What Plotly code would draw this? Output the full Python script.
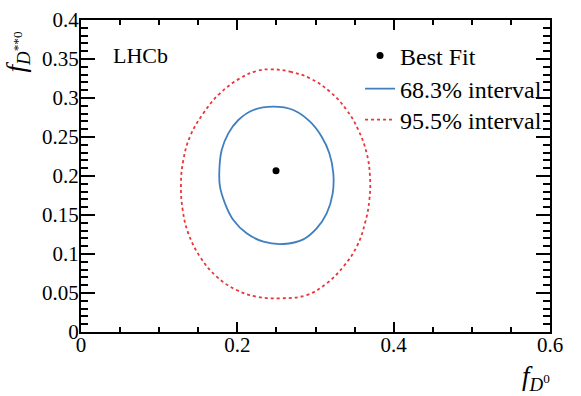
import plotly.graph_objects as go

# Best fit point
best_x = [0.2495]
best_y = [0.2068]

# 68.3% interval contour
c68_x = [0.2461, 0.2716, 0.2930, 0.3079, 0.3177, 0.3228, 0.3220, 0.3143, 0.3015, 0.2844,
         0.2588, 0.2333, 0.2119, 0.1949, 0.1842, 0.1778, 0.1770, 0.1800, 0.1885, 0.2013,
         0.2205, 0.2461]
c68_y = [0.2889, 0.2846, 0.2697, 0.2504, 0.2291, 0.2034, 0.1778, 0.1521, 0.1329, 0.1188,
         0.1128, 0.1158, 0.1265, 0.1436, 0.1650, 0.1863, 0.2077, 0.2333, 0.2547, 0.2718,
         0.2846, 0.2889]

# 95.5% interval contour
c95_x = [0.2418, 0.2674, 0.2930, 0.3185, 0.3399, 0.3548, 0.3655, 0.3697, 0.3689, 0.3633,
         0.3527, 0.3356, 0.3143, 0.2887, 0.2546, 0.2247, 0.1991, 0.1736, 0.1522, 0.1373,
         0.1301, 0.1279, 0.1309, 0.1394, 0.1565, 0.1778, 0.2034, 0.2247, 0.2418]
c95_y = [0.3368, 0.3338, 0.3252, 0.3081, 0.2846, 0.2590, 0.2291, 0.1992, 0.1692, 0.1393,
         0.1094, 0.0838, 0.0624, 0.0474, 0.0432, 0.0453, 0.0538, 0.0709, 0.0966, 0.1265,
         0.1564, 0.1906, 0.2205, 0.2504, 0.2804, 0.3060, 0.3252, 0.3346, 0.3368]

x_ticks = [0, 0.2, 0.4, 0.6]
x_ticklabels = ["0", "0.2", "0.4", "0.6"]
y_ticks = [0, 0.05, 0.1, 0.15, 0.2, 0.25, 0.3, 0.35, 0.4]
y_ticklabels = ["0", "0.05", "0.1", "0.15", "0.2", "0.25", "0.3", "0.35", "0.4"]

FONT = "Liberation Serif"
BLUE = "#3f7fc0"
RED = "#e8363a"

fig = go.Figure()
fig.add_trace(go.Scatter(x=best_x, y=best_y, mode="markers", name="Best Fit",
                         marker=dict(color="black", size=7), legend="legend",
                         showlegend=True))
fig.add_trace(go.Scatter(x=c68_x, y=c68_y, mode="lines", name="68.3% interval",
                         line=dict(color=BLUE, width=1.8, shape="spline", smoothing=1.2),
                         legend="legend2", showlegend=True))
fig.add_trace(go.Scatter(x=c95_x, y=c95_y, mode="lines", name="95.5% interval",
                         line=dict(color=RED, width=1.8, dash="dot", shape="spline", smoothing=1.2),
                         legend="legend3", showlegend=True))

axis_common = dict(showgrid=False, zeroline=False, showline=True, linecolor="black",
                   linewidth=2, ticks="inside", mirror="allticks", tickcolor="black",
                   tickwidth=1.5, automargin=False,
                   tickfont=dict(family=FONT, size=21, color="black"))

fig.update_xaxes(range=[0, 0.6], tickvals=x_ticks, ticktext=x_ticklabels, ticklen=10,
                 ticklabelstandoff=-7,
                 minor=dict(dtick=0.05, tick0=0, ticklen=5, ticks="inside", tickcolor="black",
                            tickwidth=1.5),
                 **axis_common)
fig.update_yaxes(range=[0, 0.4], tickvals=y_ticks, ticktext=y_ticklabels, ticklen=14,
                 ticklabelstandoff=-4,
                 minor=dict(dtick=0.01, tick0=0, ticklen=7, ticks="inside", tickcolor="black",
                            tickwidth=1.5),
                 **axis_common)

leg_common = dict(x=0.595, xanchor="left", yanchor="middle", bgcolor="rgba(0,0,0,0)",
                  font=dict(family=FONT, size=24), itemwidth=30)

fig.update_layout(
    width=581, height=396,
    margin=dict(l=81, r=31, t=20, b=64, autoexpand=False),
    paper_bgcolor="white", plot_bgcolor="white",
    font=dict(family=FONT, size=22, color="black"),
    showlegend=True,
    legend=dict(y=0.8846, **leg_common),
    legend2=dict(y=0.7788, **leg_common),
    legend3=dict(y=0.6795, **leg_common),
    annotations=[
        dict(text="LHCb", x=0.065, y=0.885, xref="paper", yref="paper", xanchor="left",
             yanchor="middle", showarrow=False, font=dict(family=FONT, size=22)),
        dict(text="<i>f</i><sub><i>D</i><sup>0</sup></sub>", x=1.0, y=0, xref="paper",
             yref="paper", xanchor="right", yanchor="top", yshift=-27, xshift=2,
             showarrow=False, font=dict(family=FONT, size=27)),
        dict(text="<i>f</i><sub><i>D</i><sup>**0</sup></sub>", x=0, y=1, xref="paper",
             yref="paper", xanchor="right", yanchor="top", xshift=-45, yshift=-10,
             showarrow=False, textangle=-90, font=dict(family=FONT, size=27)),
    ],
)

fig.write_html("out.html", config={"displayModeBar": False},
               post_script="document.body.style.margin='0px';")
